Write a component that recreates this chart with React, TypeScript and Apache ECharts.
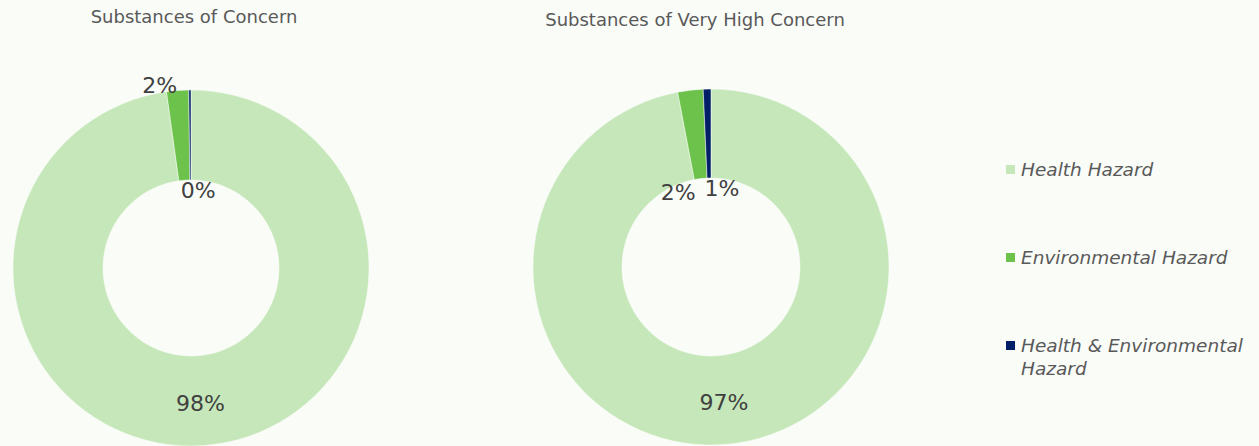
import React, { useEffect, useRef } from "react";
import * as echarts from "echarts";

const categories = ["Health Hazard", "Environmental Hazard", "Health & Environmental Hazard"];
const concernValues = [97.8, 2.0, 0.2];
const veryHighValues = [97.0, 2.3, 0.7];
const concernLabels = ["98%", "2%", "0%"];
const veryHighLabels = ["97%", "2%", "1%"];
const titles = ["Substances of Concern", "Substances of Very High Concern"];
const colors = ["#c5e7b9", "#6cc24a", "#001f66"];

const BG = "#fafcf8";
const FONT = "'DejaVu Sans', sans-serif";

export default function App() {
  const ref = useRef<HTMLDivElement>(null);
  useEffect(() => {
    document.body.style.margin = "0";
    const chart = echarts.init(ref.current!, null, { renderer: "svg" });
    const leftShift = [[0, 0], [-21, -47], [8, 58]];
    const rightShift = [[0, 0], [-17, 61], [14, 58]];
    const mk = (values: number[], labels: string[], center: number[], inner: number, shifts: number[][]) => ({
      type: "pie",
      center,
      radius: [inner, 178],
      startAngle: 90,
      clockwise: true,
      avoidLabelOverlap: false,
      label: {
        show: true,
        position: "inside",
        fontFamily: FONT,
        fontSize: 22,
        color: "#404040",
        formatter: (p: any) => labels[p.dataIndex],
      },
      labelLine: { show: false },
      labelLayout: (p: any) => ({ dx: shifts[p.dataIndex][0], dy: shifts[p.dataIndex][1] }),
      itemStyle: { borderColor: BG, borderWidth: 0.5 },
      emphasis: { disabled: true },
      data: values.map((v, i) => ({ name: categories[i], value: v, itemStyle: { color: colors[i] } })),
    });
    const legendBase = {
      orient: "vertical",
      left: 999,
      icon: "rect",
      itemWidth: 11,
      itemHeight: 11,
      itemGap: 4,
      textStyle: { fontFamily: FONT, fontSize: 18.5, fontStyle: "italic", color: "#595959" },
      selectedMode: false,
    };
    chart.setOption({
      animation: false,
      backgroundColor: BG,
      title: [
        { text: titles[0], left: 189, top: 2, textAlign: "center", textStyle: { fontFamily: FONT, fontSize: 18, fontWeight: "normal", color: "#595959" } },
        { text: titles[1], left: 690, top: 5, textAlign: "center", textStyle: { fontFamily: FONT, fontSize: 18, fontWeight: "normal", color: "#595959" } },
      ],
      legend: [
        { ...legendBase, top: 155, data: [categories[0]] },
        { ...legendBase, top: 243, data: [categories[1]] },
        {
          ...legendBase,
          top: 306,
          data: [categories[2]],
          formatter: () => " \nHealth & Environmental\nHazard",
          textStyle: { ...legendBase.textStyle, lineHeight: 23 },
        },
      ],
      series: [
        mk(concernValues, concernLabels, [191, 268], 88, leftShift),
        mk(veryHighValues, veryHighLabels, [711, 267], 89, rightShift),
      ],
    });
    return () => chart.dispose();
  }, []);
  return <div ref={ref} style={{ width: 1259, height: 446 }} />;
}
